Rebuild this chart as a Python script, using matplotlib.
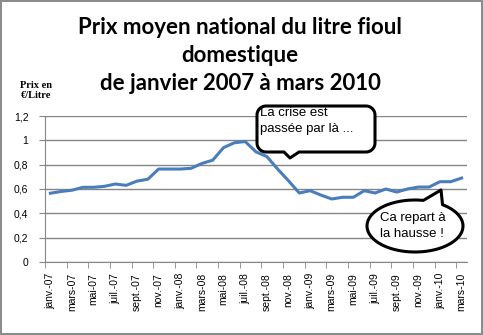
import numpy as np
import matplotlib
matplotlib.use("Agg")
import matplotlib.pyplot as plt
from matplotlib.patches import Polygon
from matplotlib.transforms import Affine2D

# ---------------------------------------------- data ----------------------------------------------
mois = ["janv.", "févr.", "mars", "avr.", "mai", "juin", "juil.", "août", "sept.", "oct.", "nov.", "déc."]
annees = ["07", "08", "09", "10"]
categories = [f"{m}-{a}" for a in annees for m in mois][:39]   # janv.-07 .. mars-10

prix = [0.565, 0.58, 0.59, 0.614, 0.614, 0.622, 0.641, 0.63, 0.665, 0.68,
        0.764, 0.764, 0.764, 0.77, 0.81, 0.837, 0.94, 0.98, 0.99, 0.905,
        0.867, 0.764, 0.668, 0.567, 0.586, 0.55, 0.518, 0.532, 0.532, 0.586,
        0.567, 0.60, 0.575, 0.60, 0.616, 0.616, 0.66, 0.66, 0.69]

yticks = [0, 0.2, 0.4, 0.6, 0.8, 1, 1.2]
ytick_labels = ["0", "0,2", "0,4", "0,6", "0,8", "1", "1,2"]

titre = "Prix moyen national du litre fioul\ndomestique\nde janvier 2007 à mars 2010"
bulle1 = "La crise est\npassée par là ..."
bulle2 = "Ca repart à\nla hausse !"

W, H = 483, 335
fig = plt.figure(figsize=(W / 100, H / 100), dpi=100)
fig.patch.set_facecolor("white")
fig.patch.set_edgecolor("#8c8c8c")
fig.patch.set_linewidth(1.5)

# pixel coords (top-left origin) -> display
T = Affine2D().scale(1, -1).translate(0, H).scale(1 / 100) + fig.dpi_scale_trans

ax = fig.add_axes([45 / W, 1 - 262 / H, 422 / W, 146 / H])
x = np.arange(len(prix))
ax.plot(x, prix, color="#4a7ebb", lw=2.2, zorder=3)

ax.set_xlim(-0.5, len(prix) - 0.5)
ax.set_ylim(0, 1.2)
ax.set_yticks(yticks)
ax.set_yticklabels(ytick_labels, fontsize=7.5, family="Liberation Sans")
ax.yaxis.grid(True, color="#868686", lw=1)
ax.set_axisbelow(True)

ax.set_xticks(x[::2])
ax.set_xticklabels(categories[::2], rotation=90, fontsize=7.5, family="Liberation Sans")
ax.set_xticks(np.arange(-0.5, len(prix), 2), minor=True)
ax.tick_params(axis="x", which="major", length=0, pad=8)
ax.tick_params(axis="x", which="minor", length=4, color="#868686")
ax.tick_params(axis="y", length=4, color="#868686", pad=8)

for s in ["top", "right"]:
    ax.spines[s].set_visible(False)
for s in ["left", "bottom"]:
    ax.spines[s].set_color("#868686")

# titles
fig.text(240 / W, 1 - 17 / H, titre, ha="center", va="top", fontsize=16,
         fontweight="bold", family="Lato", linespacing=1.4)
fig.text(36 / W, 1 - 81 / H, "Prix en\n€/Litre", ha="center", va="top", fontsize=7.5,
         fontweight="bold", family="Liberation Serif", linespacing=1.1)


def box_with_tail(x0, y0, x1, y1, r, tl, tip, tr):
    pts = []
    for cx, cy, a0 in [(x0 + r, y0 + r, 180), (x1 - r, y0 + r, 270), (x1 - r, y1 - r, 0)]:
        t = np.radians(np.linspace(a0, a0 + 90, 10))
        pts += list(zip(cx + r * np.cos(t), cy + r * np.sin(t)))
    pts += [(tr, y1), tip, (tl, y1)]
    t = np.radians(np.linspace(90, 180, 10))
    pts += list(zip(x0 + r + r * np.cos(t), y1 - r + r * np.sin(t)))
    return pts


def ellipse_with_tail(cx, cy, a, b, t_right, t_left, tip):
    t = np.radians(np.linspace(t_right, t_left + 360, 80))
    pts = list(zip(cx + a * np.cos(t), cy + b * np.sin(t)))
    pts.append(tip)
    return pts


# callout 1
p1 = Polygon(box_with_tail(257, 106, 375, 152, 9, 284, (290, 158), 299), closed=True,
             transform=T, fc="white", ec="black", lw=2.2, joinstyle="round", zorder=5)
fig.patches.append(p1)
fig.text(260, 121, bulle1, transform=T, ha="left", va="center", fontsize=9.5,
         family="Liberation Sans", linespacing=1.45, zorder=7)

# callout 2
p2 = Polygon(ellipse_with_tail(415, 226, 48, 26, -55, -80, (441, 190)), closed=True,
             transform=T, fc="white", ec="black", lw=2.2, joinstyle="round", zorder=5)
fig.patches.append(p2)
fig.text(380, 226, bulle2, transform=T, ha="left", va="center", fontsize=9.5,
         family="Liberation Sans", linespacing=1.45, zorder=7)

fig.savefig("out.png", dpi=100)
